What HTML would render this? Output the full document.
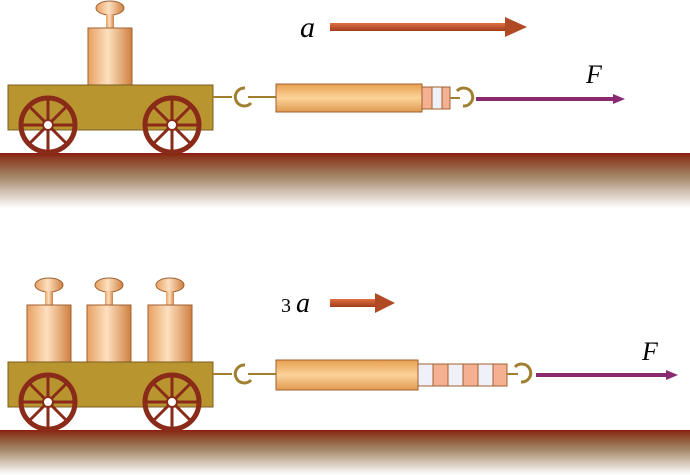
<!DOCTYPE html>
<html><head><style>body{margin:0;background:#fff}svg{display:block}</style></head><body>
<svg width="690" height="475" viewBox="0 0 690 475" xmlns="http://www.w3.org/2000/svg">
<defs>
<linearGradient id="g" x1="0" y1="0" x2="0" y2="1"><stop offset="0" stop-color="#8a1e10"/><stop offset="0.08" stop-color="#8a3a20"/><stop offset="0.4" stop-color="#a08060"/><stop offset="1" stop-color="#fff"/></linearGradient>
<linearGradient id="w" x1="0" y1="0" x2="1" y2="0"><stop offset="0" stop-color="#e8a060"/><stop offset="0.45" stop-color="#fde0c0"/><stop offset="1" stop-color="#d08040"/></linearGradient>
<linearGradient id="t" x1="0" y1="0" x2="0" y2="1"><stop offset="0" stop-color="#e8a050"/><stop offset="0.5" stop-color="#fcd39a"/><stop offset="1" stop-color="#e09a50"/></linearGradient>
<linearGradient id="a" x1="0" y1="0" x2="0" y2="1"><stop offset="0" stop-color="#e07040"/><stop offset="1" stop-color="#a03c1c"/></linearGradient>
<g id="wh"><circle r="27" fill="none" stroke="#8a2a18" stroke-width="5"/><g stroke="#8a2a18" stroke-width="3"><line x1="-26" y1="0" x2="26" y2="0"/><line x1="0" y1="-26" x2="0" y2="26"/><line x1="-18" y1="-18" x2="18" y2="18"/><line x1="-18" y1="18" x2="18" y2="-18"/></g><circle r="5" fill="#fff" stroke="#8a2a18" stroke-width="2"/></g>
<g id="wt"><ellipse cx="22" cy="-20" rx="14" ry="7" fill="url(#w)" stroke="#a06030"/><rect x="18" y="-14" width="8" height="14" fill="url(#w)"/><rect x="0" y="0" width="44" height="57" fill="url(#w)" stroke="#a06030"/></g>
<path id="hl" d="M4,-10 A9,9 0 1 0 10,5" fill="none" stroke="#a08030" stroke-width="3"/>
<path id="hr" d="M-4,10 A9,9 0 1 0 -10,-5" fill="none" stroke="#a08030" stroke-width="3"/>
</defs>
<rect x="0" y="153" width="690" height="55" fill="url(#g)"/>
<rect x="0" y="430" width="690" height="45" fill="url(#g)"/>
<!-- top -->
<use href="#wt" x="88" y="28"/>
<rect x="8" y="85" width="205" height="45" fill="#b99530" stroke="#7a6020"/>
<use href="#wh" x="48" y="125"/><use href="#wh" x="172" y="125"/>
<path d="M213,97 H232" stroke="#a08030" stroke-width="2"/>
<use href="#hl" x="241" y="98"/>
<path d="M248,97 H276" stroke="#a08030" stroke-width="2"/>
<rect x="276" y="84" width="146" height="28" fill="url(#t)" stroke="#a06030"/>
<rect x="422" y="87" width="10" height="22" fill="#f4b090" stroke="#a06030"/><rect x="432" y="87" width="10" height="22" fill="#f0f0f8" stroke="#a06030"/><rect x="442" y="87" width="8" height="22" fill="#f4b090" stroke="#a06030"/>
<path d="M450,98 H460" stroke="#a08030" stroke-width="2"/>
<use href="#hr" x="467" y="96"/>
<line x1="476" y1="99" x2="615" y2="99" stroke="#8a2a70" stroke-width="4"/><polygon points="613,94 625,99 613,104" fill="#8a2a70"/>
<text x="586" y="83" font-family="Liberation Serif,serif" font-style="italic" font-size="26">F</text>
<text x="300" y="37" font-family="Liberation Serif,serif" font-style="italic" font-size="30">a</text>
<rect x="330" y="23" width="180" height="8" fill="url(#a)"/><polygon points="505,17 527,27 505,37" fill="#b04a24"/>
<!-- bottom -->
<use href="#wt" x="27" y="305"/><use href="#wt" x="87" y="305"/><use href="#wt" x="148" y="305"/>
<rect x="8" y="362" width="205" height="45" fill="#b99530" stroke="#7a6020"/>
<use href="#wh" x="48" y="402"/><use href="#wh" x="172" y="402"/>
<path d="M213,374 H232" stroke="#a08030" stroke-width="2"/>
<use href="#hl" x="241" y="375"/>
<path d="M248,374 H276" stroke="#a08030" stroke-width="2"/>
<rect x="276" y="360" width="142" height="30" fill="url(#t)" stroke="#a06030"/>
<g stroke="#a06030"><rect x="418" y="364" width="15" height="22" fill="#f0f0f8"/><rect x="433" y="364" width="15" height="22" fill="#f4b090"/><rect x="448" y="364" width="15" height="22" fill="#f0f0f8"/><rect x="463" y="364" width="15" height="22" fill="#f4b090"/><rect x="478" y="364" width="15" height="22" fill="#f0f0f8"/><rect x="493" y="364" width="14" height="22" fill="#f4b090"/></g>
<path d="M507,374 H518" stroke="#a08030" stroke-width="2"/>
<use href="#hr" x="525" y="372"/>
<line x1="536" y1="375" x2="668" y2="375" stroke="#8a2a70" stroke-width="4"/><polygon points="666,370 678,375 666,380" fill="#8a2a70"/>
<text x="642" y="360" font-family="Liberation Serif,serif" font-style="italic" font-size="26">F</text>
<text x="281" y="312" font-family="Liberation Serif,serif" font-size="20">3</text>
<text x="296" y="312" font-family="Liberation Serif,serif" font-style="italic" font-size="28">a</text>
<rect x="330" y="299" width="48" height="8" fill="url(#a)"/><polygon points="375,293 395,303 375,313" fill="#b04a24"/>
</svg>
</body></html>
